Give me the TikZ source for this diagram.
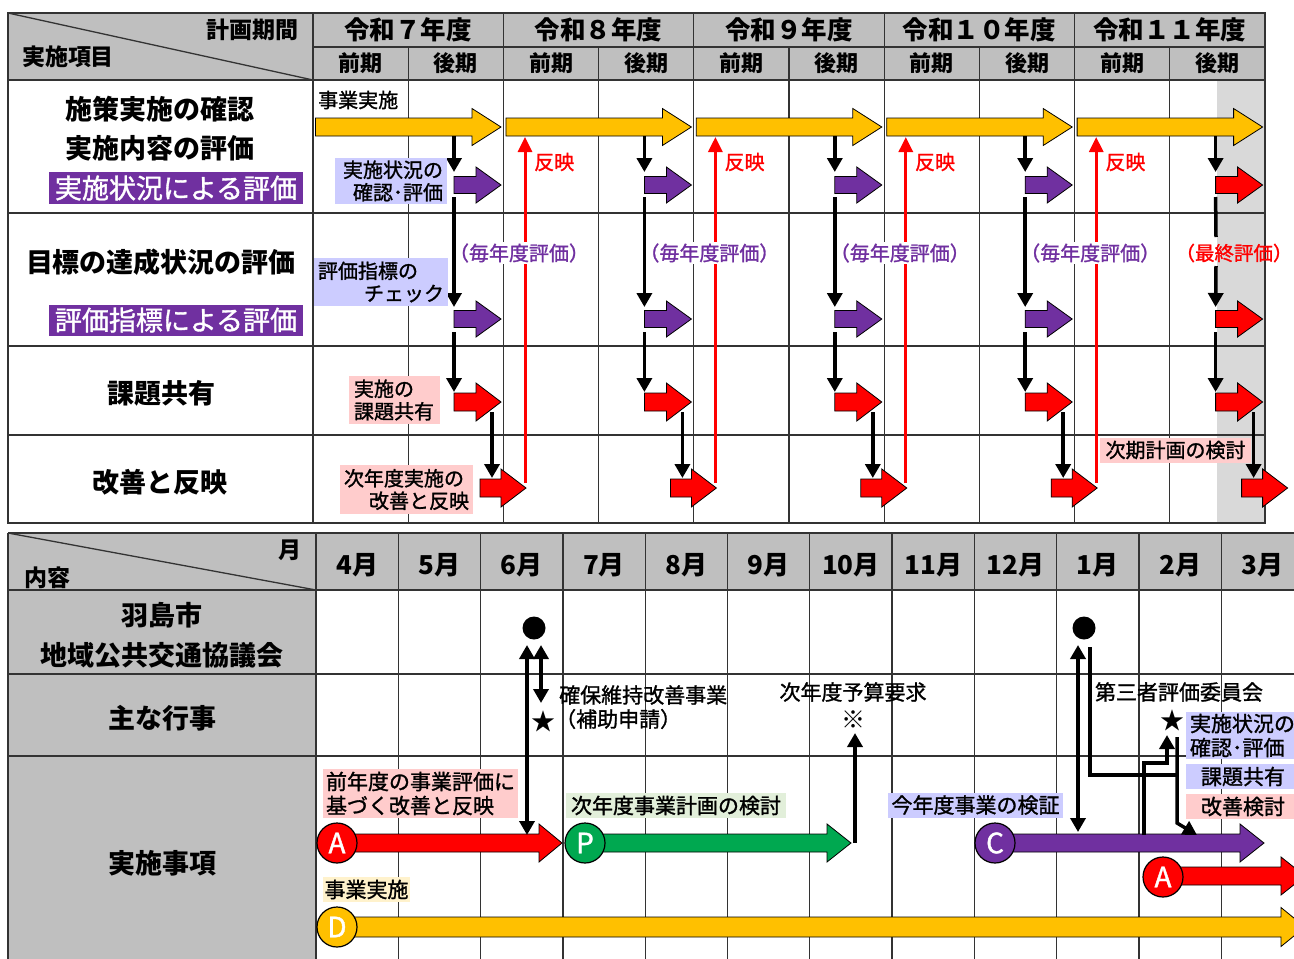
\documentclass[tikz,border=0pt]{standalone}
\usepackage{fontspec}
\setmainfont{Noto Sans CJK JP}
\newfontfamily\medfont[FakeBold=1.3]{Noto Sans CJK JP}
\usetikzlibrary{arrows.meta}
\definecolor{hdr}{HTML}{BFBFBF}
\definecolor{lgray}{HTML}{D9D9D9}
\definecolor{pur}{HTML}{7030A0}
\definecolor{lav}{HTML}{CCCCFF}
\definecolor{pnk}{HTML}{FFCCCC}
\definecolor{lgrn}{HTML}{E2EFDA}
\definecolor{lyel}{HTML}{FFF2CC}
\definecolor{yel}{HTML}{FFC000}
\definecolor{grn}{HTML}{00A850}
\definecolor{gridc}{HTML}{333333}
\newcommand\barrow[8]{%
  \path[draw=black,line width=0.8pt,fill=#8] (#2,#4-#5) -- (#3-#7,#4-#5) -- (#3-#7,#4-#6) -- (#3,#4) -- (#3-#7,#4+#6) -- (#3-#7,#4+#5) -- (#2,#4+#5) -- cycle;
  \coordinate (#1-w) at (#2,#4);
  \coordinate (#1-e) at (#3,#4);}
\begin{document}
\begin{tikzpicture}[x=1pt,y=-1pt,
  gridline/.style={draw=gridc,line width=1.3pt},
  big/.style={inner sep=0pt,font=\fontsize{27}{32}\selectfont\bfseries},
  hd/.style={inner sep=0pt,font=\fontsize{23}{27}\selectfont\bfseries},
  yr/.style={inner sep=0pt,font=\fontsize{25.5}{30}\selectfont\bfseries},
  half/.style={inner sep=0pt,font=\fontsize{22}{26}\selectfont\bfseries},
  sbox/.style={inner sep=0pt,font=\fontsize{20}{22.5}\medfont},
  bbox/.style={inner sep=0pt,font=\fontsize{21}{24}\medfont},
  conn/.style={line width=3.5pt,-{Triangle[length=14pt,width=15pt]}},
  dconn/.style={line width=3.5pt,{Triangle[length=14pt,width=15pt]}-{Triangle[length=14pt,width=15pt]}},
  plain/.style={line width=3.5pt},
  redconn/.style={draw=red,line width=3pt,-{Triangle[length=15pt,width=14pt]}},
  circ/.style={circle,draw=black,line width=1.2pt,minimum size=40pt,inner sep=0pt,text=white,font=\fontsize{28}{28}\medfont},
  dot/.style={circle,fill=black,minimum size=23pt,inner sep=0pt}]
\clip (0,0) rectangle (1294,959);
\fill[white] (0,0) rectangle (1294,959);
% ================= TOP TABLE =================
\fill[hdr] (8,13) rectangle (1265,80);
\fill[lgray] (1217,80) rectangle (1265,523);
\draw[gridline] (8,13) rectangle (1265,523);
\draw[gridline] (8,13) -- (313,80);
\foreach \y in {80,213,346,435} \draw[gridline] (8,\y) -- (1265,\y);
\draw[gridline] (313,47) -- (1265,47);
\foreach \i in {0,...,4} {
  \draw[gridline] (313+190.4*\i,13) -- (313+190.4*\i,523);
  \draw[gridline] (408.2+190.4*\i,47) -- (408.2+190.4*\i,523);
}
\node[hd] (hplan) at (252,30) {計画期間};
\node[hd] (hitem) at (68,57) {実施項目};
\foreach \i/\t in {0/令和７年度,1/令和８年度,2/令和９年度,3/令和１０年度,4/令和１１年度} {
  \node[yr] (yr\i) at (408.2+190.4*\i,30) {\t};
  \node[half] (ha\i) at (360.6+190.4*\i,63) {前期};
  \node[half] (hb\i) at (455.8+190.4*\i,63) {後期};
}
% row labels
\node[big] (r1a) at (160,109) {施策実施の確認};
\node[big] (r1b) at (160,148) {実施内容の評価};
\node[big,fill=pur,text=white,minimum width=254pt,minimum height=32pt,font=\fontsize{27}{32}\medfont] (r1c) at (176,188) {実施状況による評価};
\node[big] (r2a) at (161,262) {目標の達成状況の評価};
\node[big,fill=pur,text=white,minimum width=254pt,minimum height=31pt,font=\fontsize{27}{32}\medfont] (r2b) at (176,320) {評価指標による評価};
\node[big] (r3) at (161,393) {課題共有};
\node[big] (r4) at (160,482) {改善と反映};
% arrows per year
\foreach \k in {0,...,4} {
  \pgfmathsetmacro\dx{190.4*\k}
  \ifnum\k<4 \def\cc{pur}\else\def\cc{red}\fi
  \barrow{Y\k}{315.5+\dx}{501+\dx}{127}{9}{18.5}{29}{yel}
  \barrow{E\k}{454+\dx}{501+\dx}{185}{8.5}{18}{25}{\cc}
  \barrow{F\k}{454+\dx}{501+\dx}{319}{8.5}{18}{25}{\cc}
  \barrow{G\k}{454+\dx}{501+\dx}{402}{9}{19}{25}{red}
  \barrow{H\k}{480+\dx}{526+\dx}{488}{9}{19}{25}{red}
  \coordinate (ya\k) at (454+\dx,136);
  \coordinate (yb\k) at (454+\dx,172);
  \coordinate (ea\k) at (454+\dx,197);
  \coordinate (eb\k) at (454+\dx,307);
  \coordinate (fa\k) at (454+\dx,332);
  \coordinate (fb\k) at (454+\dx,392);
  \coordinate (ga\k) at (492+\dx,412);
  \coordinate (gb\k) at (492+\dx,478);
  \draw[conn] (ya\k) -- (yb\k);
  \draw[conn] (fa\k) -- (fb\k);
  \draw[conn] (ga\k) -- (gb\k);
}
\foreach \k in {0,...,3} {
  \pgfmathsetmacro\dx{190.4*\k}
  \draw[conn] (ea\k) -- (eb\k);
  \coordinate (ra\k) at (525+\dx,483);
  \coordinate (rb\k) at (525+\dx,137);
  \draw[redconn] (ra\k) -- (rb\k);
  \node[sbox,text=red,anchor=west] (fe\k) at (534+\dx,162) {反映};
  \node[sbox,text=pur,fill=white,inner xsep=-7pt,inner ysep=1pt] (mn\k) at (519+\dx,253) {（毎年度評価）};
}
\node[sbox,text=red,inner xsep=0pt,font=\fontsize{19.5}{22}\medfont] (fin) at (1234,253) {（最終評価）};
\coordinate (fin1) at (1216,237);
\coordinate (fin2) at (1216,266);
\draw[plain] (ea4) -- (fin1);
\draw[conn] (fin2) -- (eb4);
% small labels
\node[sbox,fill=white,anchor=west,inner xsep=1pt,inner ysep=1pt] (jj) at (317,100) {事業実施};
\node[sbox,fill=lav,minimum width=112pt,minimum height=46pt,text width=104pt,align=right] (lb1) at (391,181) {実施状況の\\確認･評価};
\node[sbox,fill=lav,minimum width=134pt,minimum height=48pt,text width=126pt,align=left] (lb2) at (381,282) {評価指標の\\\hspace*{\fill}チェック};
\node[sbox,fill=pnk,minimum width=91pt,minimum height=48pt,text width=81pt,align=left] (lb3) at (394.5,400) {実施の\\課題共有};
\node[sbox,fill=pnk,minimum width=133pt,minimum height=49pt,text width=125pt,align=left] (lb4) at (406.5,489.5) {次年度実施の\\\hspace*{\fill}改善と反映};
\node[sbox,fill=pnk,minimum width=151pt,minimum height=25pt] (lb5) at (1175.5,450) {次期計画の検討};
% ================= BOTTOM TABLE =================
\fill[hdr] (8,533) rectangle (1300,590);
\fill[hdr] (8,590) rectangle (316,965);
\draw[gridline] (8,533) -- (1300,533);
\foreach \y in {590,674,756} \draw[gridline] (8,\y) -- (1300,\y);
\draw[gridline] (8,533) -- (8,965);
\draw[gridline] (8,533) -- (316,590);
\foreach \i in {0,...,12} \draw[gridline] (316+82.3*\i,533) -- (316+82.3*\i,965);
\node[hd] (hmon) at (290,550) {月};
\node[hd] (hcon) at (47,578) {内容};
\foreach \i/\t in {0/4月,1/5月,2/6月,3/7月,4/8月,5/9月,6/10月,7/11月,8/12月,9/1月,10/2月,11/3月}
  \node[inner sep=0pt,font=\fontsize{26}{30}\selectfont\bfseries] (m\i) at (357.15+82.3*\i,565) {\t};
\node[big] (b1a) at (162,615) {羽島市};
\node[big] (b1b) at (162,655) {地域公共交通協議会};
\node[big] (b2) at (162,718) {主な行事};
\node[big] (b3) at (162,863) {実施事項};
% labels
\node[bbox,fill=pnk,minimum width=195pt,minimum height=49pt,text width=189pt,align=left] (pa) at (420.5,793.5) {前年度の事業評価に\\基づく改善と反映};
\node[bbox,fill=lgrn,minimum width=220pt,minimum height=25pt] (pb) at (676,805.5) {次年度事業計画の検討};
\node[bbox,fill=lav,minimum width=175pt,minimum height=25pt] (pc) at (975.5,805) {今年度事業の検証};
\node[bbox,fill=lyel,minimum width=87pt,minimum height=25pt] (pd) at (366.5,889.5) {事業実施};
\node[bbox,fill=lav,minimum width=114pt,minimum height=47pt,text width=106pt,align=left] (q1) at (1243,735.5) {実施状況の\\確認･評価};
\node[bbox,fill=lav,minimum width=114pt,minimum height=25pt] (q2) at (1243,776.5) {課題共有};
\node[bbox,fill=pnk,minimum width=114pt,minimum height=25pt] (q3) at (1243,806.5) {改善検討};
\node[bbox,anchor=west] (t1) at (559,695) {確保維持改善事業};
\node[bbox,anchor=west] (t2) at (555,719) {（補助申請）};
\node[bbox] (t3) at (853,692) {次年度予算要求};
\node[bbox,font=\fontsize{24}{24}\selectfont] (kome) at (853,720) {※};
\node[bbox] (t4) at (1179,692) {第三者評価委員会};
\node[bbox,font=\fontsize{24}{24}\selectfont] (st1) at (543,721) {★};
\node[bbox,font=\fontsize{24}{24}\selectfont] (st2) at (1172,720) {★};
\node[dot] (dot1) at (534,628) {};
\node[dot] (dot2) at (1084,628) {};
% block arrows
\barrow{AA}{337}{562}{843}{9}{19}{23}{red}
\barrow{PP}{585}{851}{843}{9}{19}{24}{grn}
\barrow{CC}{995}{1264}{843}{9}{19}{24}{pur}
\barrow{A2}{1163}{1305}{876}{9}{19}{24}{red}
\barrow{DD}{337}{1305}{927}{10}{19.5}{24}{yel}
\node[circ,fill=red] (cA) at (337,843) {A};
\node[circ,fill=grn] (cP) at (585,843) {P};
\node[circ,fill=pur] (cC) at (995,843) {C};
\node[circ,fill=red] (cA2) at (1163,877) {A};
\node[circ,fill=yel] (cD) at (337,927) {D};
% connectors
\coordinate (c1a) at (527,645); \coordinate (c1b) at (527,835);
\coordinate (c2a) at (541,645); \coordinate (c2b) at (541,703);
\coordinate (c3a) at (855,843); \coordinate (c3b) at (855,733);
\coordinate (c4a) at (1078,645); \coordinate (c4b) at (1078,832);
\coordinate (c5a) at (1090,647); \coordinate (c5b) at (1177,775);
\coordinate (c6a) at (1177,737); \coordinate (c6b) at (1177,823); \coordinate (c6c) at (1197,835);
\coordinate (c7a) at (1144,835); \coordinate (c7b) at (1167,763); \coordinate (c7c) at (1167,735);
\draw[dconn] (c1a) -- (c1b);
\draw[dconn] (c2a) -- (c2b);
\draw[conn] (c3a) -- (c3b);
\draw[dconn] (c4a) -- (c4b);
\draw[plain] (c5a) |- (c5b);
\draw[conn] (c6a) -- (c6b) -- (c6c);
\draw[conn] (c7a) |- (c7b) -- (c7c);
\end{tikzpicture}
\end{document}
